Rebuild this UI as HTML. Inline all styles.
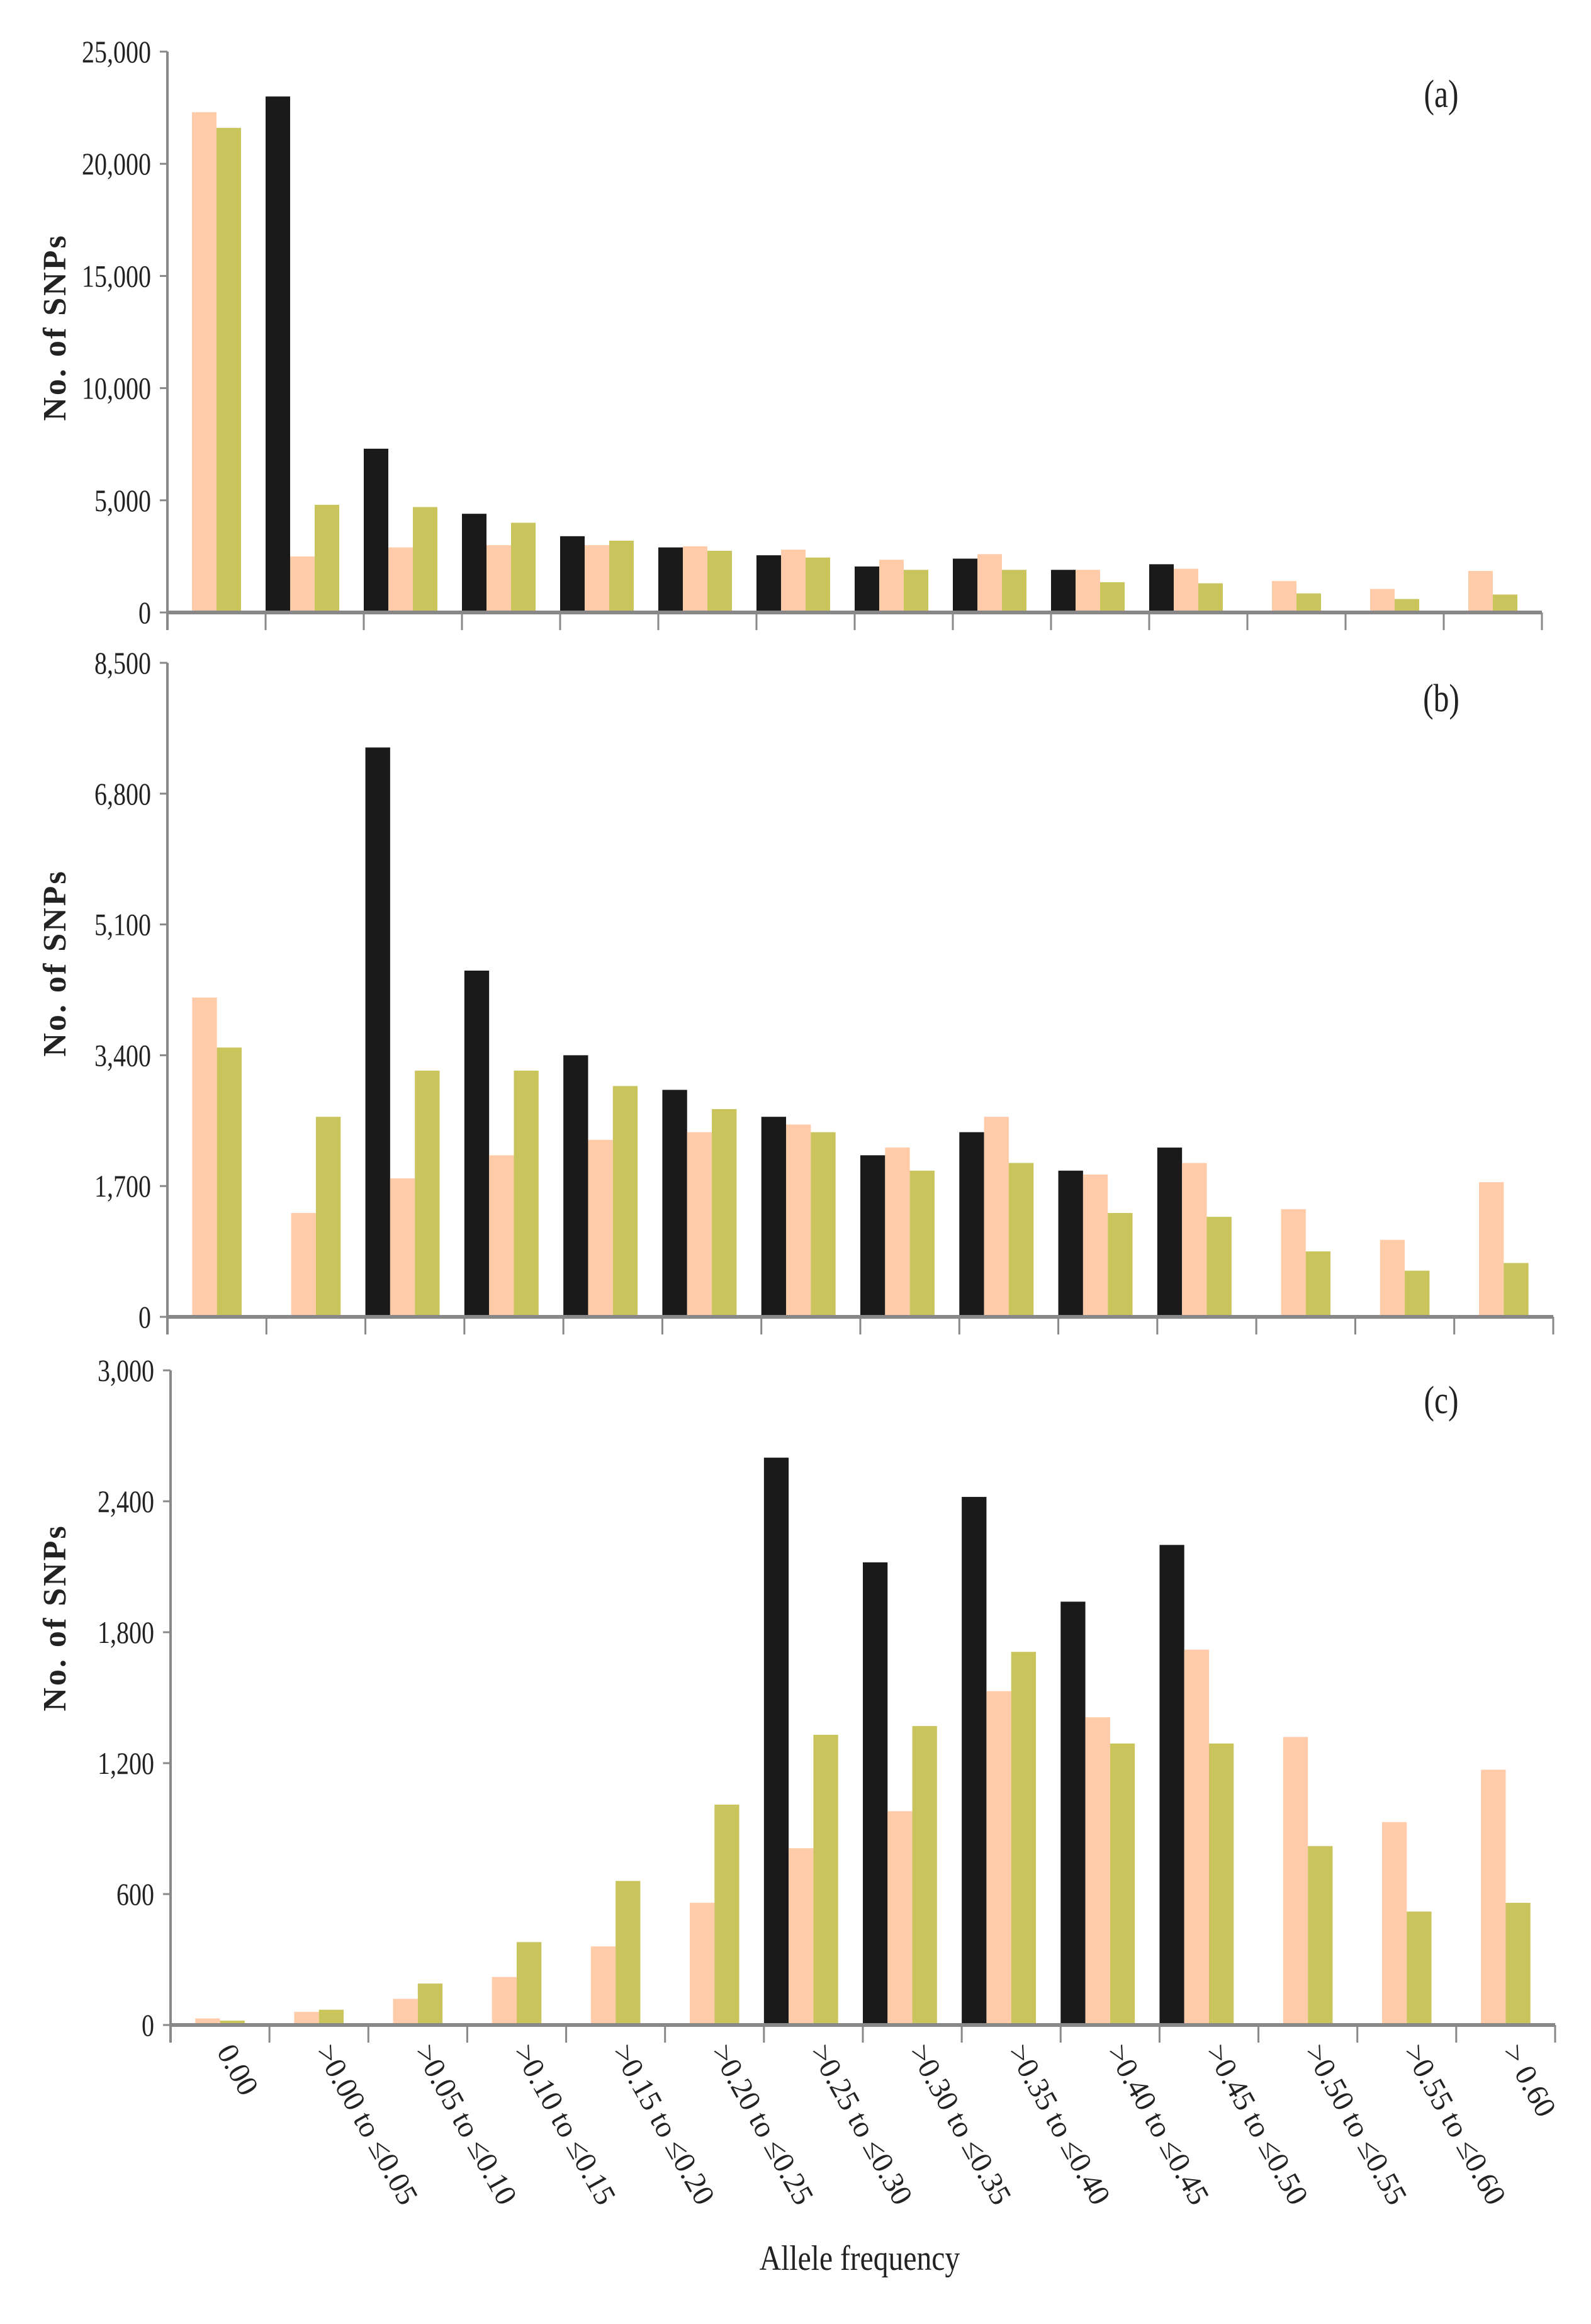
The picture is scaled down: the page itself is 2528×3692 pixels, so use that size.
<!DOCTYPE html>
<html><head><meta charset="utf-8">
<style>
html,body{margin:0;padding:0;background:#fff;}
svg{display:block;}
text{font-family:"Liberation Serif",serif;fill:#222;}
</style></head>
<body>
<svg id="chart" width="2528" height="3692" viewBox="0 0 2528 3692" xmlns="http://www.w3.org/2000/svg">
<text x="1366" y="3606" font-size="56" text-anchor="middle" transform="translate(1366 0) scale(0.85 1) translate(-1366 0)">Allele frequency</text>
</svg>
<script>
const categories = ["0.00", ">0.00 to \u22640.05", ">0.05 to \u22640.10", ">0.10 to \u22640.15", ">0.15 to \u22640.20", ">0.20 to \u22640.25", ">0.25 to \u22640.30", ">0.30 to \u22640.35", ">0.35 to \u22640.40", ">0.40 to \u22640.45", ">0.45 to \u22640.50", ">0.50 to \u22640.55", ">0.55 to \u22640.60", "> 0.60"];
const aBlack = [0, 23000, 7300, 4400, 3400, 2900, 2550, 2050, 2400, 1900, 2150, 0, 0, 0];
const aPeach = [22300, 2500, 2900, 3000, 3000, 2950, 2800, 2350, 2600, 1900, 1950, 1400, 1050, 1850];
const aOlive = [21600, 4800, 4700, 4000, 3200, 2750, 2450, 1900, 1900, 1350, 1300, 850, 600, 800];
const bBlack = [0, 0, 7400, 4500, 3400, 2950, 2600, 2100, 2400, 1900, 2200, 0, 0, 0];
const bPeach = [4150, 1350, 1800, 2100, 2300, 2400, 2500, 2200, 2600, 1850, 2000, 1400, 1000, 1750];
const bOlive = [3500, 2600, 3200, 3200, 3000, 2700, 2400, 1900, 2000, 1350, 1300, 850, 600, 700];
const cBlack = [0, 0, 0, 0, 0, 0, 2600, 2120, 2420, 1940, 2200, 0, 0, 0];
const cPeach = [30, 60, 120, 220, 360, 560, 810, 980, 1530, 1410, 1720, 1320, 930, 1170];
const cOlive = [20, 70, 190, 380, 660, 1010, 1330, 1370, 1710, 1290, 1290, 820, 520, 560];
const aTicks = ["0", "5,000", "10,000", "15,000", "20,000", "25,000"];
const bTicks = ["0", "1,700", "3,400", "5,100", "6,800", "8,500"];
const cTicks = ["0", "600", "1,200", "1,800", "2,400", "3,000"];

const NS = "http://www.w3.org/2000/svg";
const svg = document.getElementById("chart");
function mk(tag, attrs, parent) {
  const e = document.createElementNS(NS, tag);
  for (const k in attrs) e.setAttribute(k, attrs[k]);
  (parent || svg).appendChild(e);
  return e;
}
const colors = ["#1a1a1a", "#FFCBA8", "#C9C45C"];
const seriesNames = ["black", "peach", "olive"];
const panels = [
  {id: "a", x0: 266, x1: 2450, yTop: 82, yZero: 973, max: 25000, ticks: aTicks, series: [aBlack, aPeach, aOlive], titleY: 520, labY: 150},
  {id: "b", x0: 266, x1: 2468, yTop: 1053, yZero: 2092, max: 8500, ticks: bTicks, series: [bBlack, bPeach, bOlive], titleY: 1530, labY: 1110},
  {id: "c", x0: 271, x1: 2471, yTop: 2177, yZero: 3217, max: 3000, ticks: cTicks, series: [cBlack, cPeach, cOlive], titleY: 2570, labY: 2225}
];
panels.forEach(function(p, pi) {
  const g = mk("g", {});
  
  
  const n = categories.length;
  const cw = (p.x1 - p.x0) / n;
  const yScale = function(v) { return p.yZero - v / p.max * (p.yZero - p.yTop); };
  const bw = cw / 4;
  p.series.forEach(function(arr, si) {
    arr.forEach(function(v, i) {
      if (v <= 0) return;
      const y = yScale(v);
      const r = mk("rect", {x: p.x0 + i * cw + si * bw, y: y, width: bw, height: p.yZero - y, fill: colors[si]}, g);
      
      
    });
  });
  const ya = mk("line", {x1: p.x0, y1: p.yTop, x2: p.x0, y2: p.yZero + 28, stroke: "#888", "stroke-width": 4}, g);
  
  
  p.ticks.forEach(function(t, k) {
    const v = p.max * k / (p.ticks.length - 1);
    const y = yScale(v);
    mk("line", {x1: p.x0 - 12, y1: y, x2: p.x0, y2: y, stroke: "#888", "stroke-width": 3}, g);
    const tx = mk("text", {x: 0, y: 0, "font-size": 50, "text-anchor": "end", transform: "translate(" + (p.x0 - 26) + " " + (y + 17) + ") scale(0.8 1)"}, g);
    tx.textContent = t;
    
    
  });
  const xa = mk("line", {x1: p.x0, y1: p.yZero, x2: p.x1, y2: p.yZero, stroke: "#888", "stroke-width": 6}, g);
  
  
  for (let i = 0; i <= n; i++) {
    const x = p.x0 + i * cw;
    mk("line", {x1: x, y1: p.yZero, x2: x, y2: p.yZero + 28, stroke: "#888", "stroke-width": 3}, g);
  }
  const yt = mk("text", {x: 0, y: 0, "font-size": 52, "font-weight": "bold", "text-anchor": "middle", "letter-spacing": "3", transform: "translate(104 " + p.titleY + ") rotate(-90)"}, g);
  yt.textContent = "No. of SNPs";
  
  
  const pl = mk("text", {x: 0, y: 0, "font-size": 62, "text-anchor": "middle", transform: "translate(2290 " + (p.labY + 20) + ") scale(0.8 1)"}, g);
  pl.textContent = "(" + p.id + ")";
  
  
  if (pi === 2) {
    categories.forEach(function(c, i) {
      const cx = p.x0 + (i + 0.5) * cw - 6;
      const t = mk("text", {x: 0, y: 0, "font-size": 48, transform: "translate(" + cx + " " + (p.yZero + 42) + ") rotate(61)"}, g);
      t.textContent = c;
      
      
    });
  }
});
</script>
</body></html>
